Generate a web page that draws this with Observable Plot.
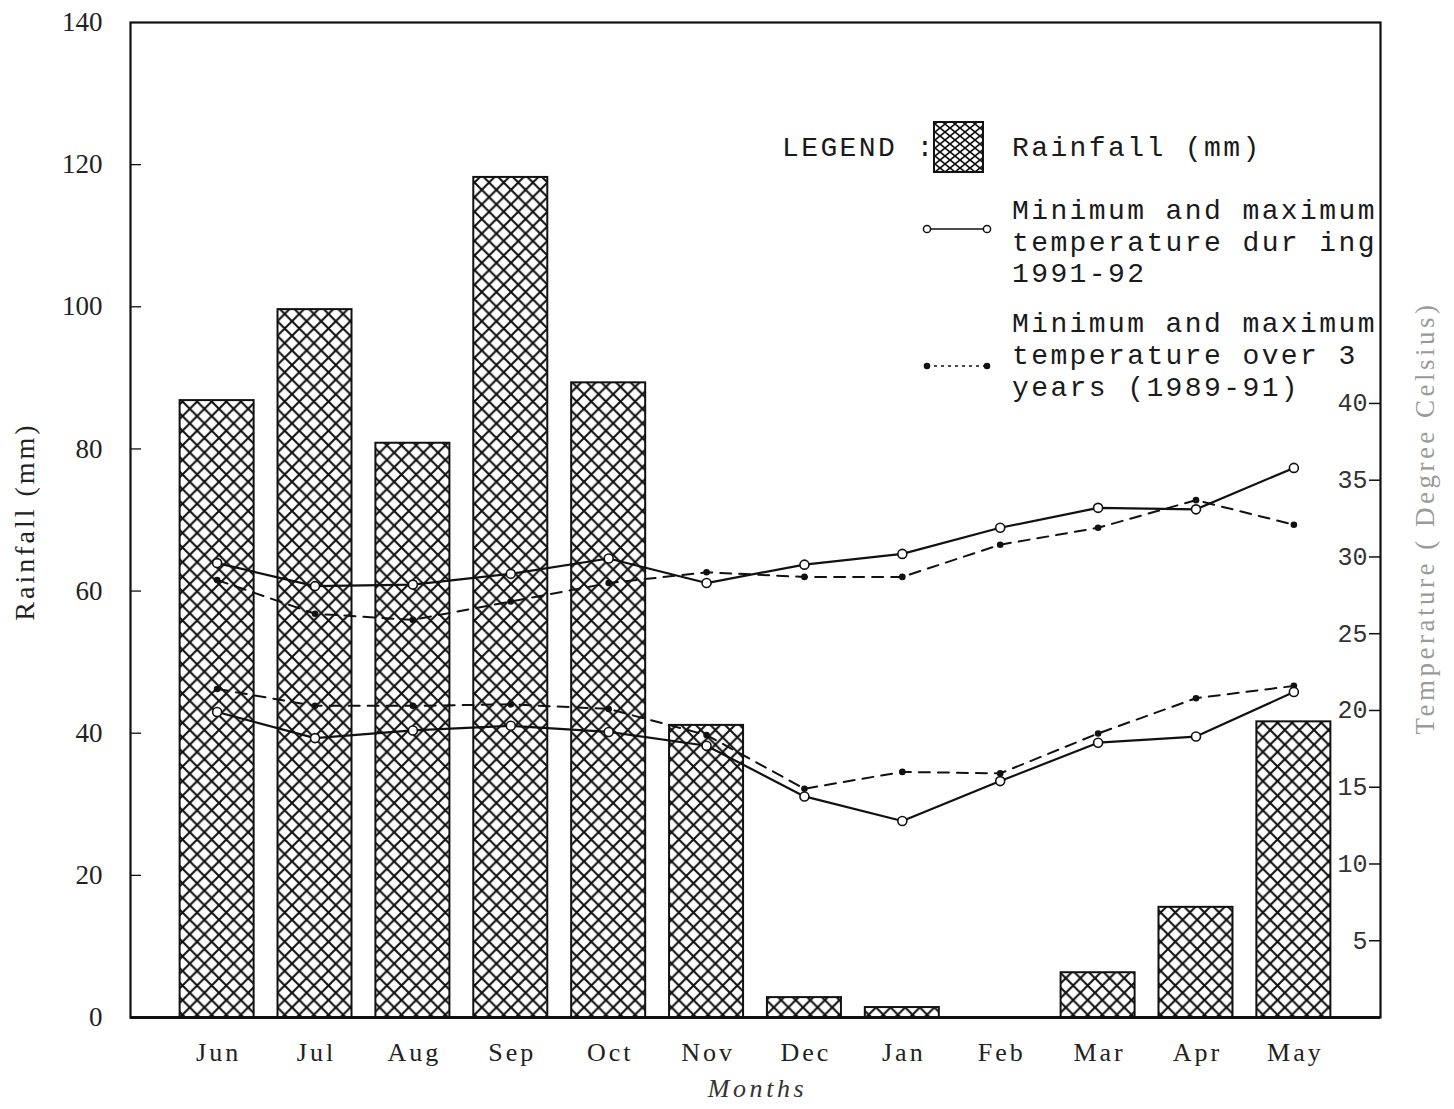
<!DOCTYPE html>
<html>
<head>
<meta charset="utf-8">
<script src="https://cdn.jsdelivr.net/npm/d3@7"></script>
<script src="https://cdn.jsdelivr.net/npm/@observablehq/plot@0.6"></script>
<style>
  body { margin: 0; background: #fff; }
  #wrap { position: relative; width: 1454px; height: 1109px; overflow: hidden; }
  #wrap > svg.plot { position: absolute; left: 0; top: 0; }
  .leg { position: absolute; font-family: "Liberation Mono", "DejaVu Sans Mono", monospace; font-size: 28px;
         letter-spacing: 2.4px; color: #1a1a1a; white-space: pre; line-height: 1; }
  #legsym { position: absolute; left: 0; top: 0; pointer-events: none; }
</style>
</head>
<body>
<div id="wrap"></div>
<script>
// ---- data ----
const months = ["Jun", "Jul", "Aug", "Sep", "Oct", "Nov", "Dec", "Jan", "Feb", "Mar", "Apr", "May"];
const rainfall = [86.8, 99.6, 80.8, 118.2, 89.3, 41.1, 2.8, 1.4, 0, 6.3, 15.5, 41.6];          // mm
const maxT9192 = [29.6, 28.1, 28.2, 28.9, 29.9, 28.3, 29.5, 30.2, 31.9, 33.2, 33.1, 35.8];      // °C
const minT9192 = [19.9, 18.2, 18.7, 19.0, 18.6, 17.7, 14.4, 12.8, 15.4, 17.9, 18.3, 21.2];
const maxT8991 = [28.5, 26.3, 25.9, 27.1, 28.3, 29.0, 28.7, 28.7, 30.8, 31.9, 33.7, 32.1];
const minT8991 = [21.4, 20.3, 20.3, 20.4, 20.1, 18.4, 14.9, 16.0, 15.9, 18.5, 20.8, 21.6];
const rainTicks = [0, 20, 40, 60, 80, 100, 120, 140];
const tempTicks = [5, 10, 15, 20, 25, 30, 35, 40];
const K = 2.16; // degrees Celsius -> mm position on the shared vertical scale

// ---- tables ----
const rainRows = months.map((m, i) => ({month: m, rain: rainfall[i]}));
const tempRows = [];
[["max9192", maxT9192, "1991-92"], ["min9192", minT9192, "1991-92"],
 ["max8991", maxT8991, "1989-91"], ["min8991", minT8991, "1989-91"]].forEach(([key, vals, period]) => {
  vals.forEach((t, i) => tempRows.push({key, period, month: months[i], t}));
});
const recent = tempRows.filter(d => d.period === "1991-92");
const longterm = tempRows.filter(d => d.period === "1989-91");

const W = 1454, H = 1109, mL = 130, mR = 74, mT = 22, mB = 92;
const frameW = W - mL - mR;
const serif = "Liberation Serif, Times New Roman, serif";
const mono = "Liberation Mono, DejaVu Sans Mono, monospace";

const chart = Plot.plot({
  width: W, height: H,
  marginLeft: mL, marginRight: mR, marginTop: mT, marginBottom: mB,
  style: {background: "white", overflow: "visible", fontFamily: serif},
  x: {type: "band", domain: months, paddingInner: 0.244, paddingOuter: 0.507, round: false, axis: null},
  y: {domain: [0, 140], axis: null},
  marks: [
    Plot.barY(rainRows.filter(d => d.rain > 0), {x: "month", y: "rain", fill: "url(#hatch)", stroke: "#111", strokeWidth: 2}),
    // temperature lines
    Plot.line(longterm, {x: "month", y: d => d.t * K, z: "key", stroke: "#111", strokeWidth: 2, strokeDasharray: "11,8"}),
    Plot.line(recent, {x: "month", y: d => d.t * K, z: "key", stroke: "#111", strokeWidth: 2.2}),
    Plot.dot(longterm, {x: "month", y: d => d.t * K, r: 3.3, fill: "#111"}),
    Plot.dot(recent, {x: "month", y: d => d.t * K, r: 4.5, fill: "white", stroke: "#111", strokeWidth: 1.6}),
    // frame and baseline
    Plot.frame({stroke: "#111", strokeWidth: 2.2}),
    Plot.ruleY([0], {stroke: "#111", strokeWidth: 3}),
    // left axis (rainfall)
    Plot.tickY(rainTicks.filter(d => d > 0 && d < 140), {y: d => d, insetRight: frameW - 11, stroke: "#111", strokeWidth: 1.3}),
    Plot.text(rainTicks, {y: d => d, text: d => String(d), frameAnchor: "left", textAnchor: "end", dx: -28,
      fontFamily: serif, fontSize: 27, fill: "#222"}),
    // right axis (temperature)
    Plot.tickY(tempTicks, {y: d => d * K, insetLeft: frameW - 11, stroke: "#111", strokeWidth: 1.5}),
    Plot.text(tempTicks, {y: d => d * K, text: d => String(d), frameAnchor: "right", textAnchor: "end", dx: -13,
      fontFamily: mono, fontSize: 25, fill: "#333"}),
    // x labels
    Plot.text(months, {x: d => d, text: d => d, frameAnchor: "bottom", dy: 35, dx: 1.5, lineAnchor: "middle",
      fontFamily: serif, fontSize: 26, fill: "#222"}),
    Plot.text(["Months"], {frameAnchor: "bottom", dy: 71, dx: 2, lineAnchor: "middle", textAnchor: "middle", fontFamily: serif, fontSize: 26,
      fontStyle: "italic", fill: "#333"}),
    Plot.text(["Rainfall (mm)"], {frameAnchor: "left", dx: -105, dy: 1.5, rotate: -90, textAnchor: "middle", fontFamily: serif, fontSize: 28,
      fill: "#222"}),
    Plot.text(["Temperature ( Degree Celsius)"], {frameAnchor: "right", dx: 45, dy: -2, rotate: -90, textAnchor: "middle",
      fontFamily: serif, fontSize: 27, fill: "#9a9a9a"})
  ]
});
chart.classList.add("plot");
chart.insertAdjacentHTML("afterbegin",
  `<defs>
     <pattern id="hatch" patternUnits="userSpaceOnUse" width="14.6" height="14.6">
       <rect width="14.6" height="14.6" fill="white"/>
       <path d="M-1,-1 L15.6,15.6 M15.6,-1 L-1,15.6" stroke="#111" stroke-width="2.1" fill="none"/>
     </pattern>
   </defs>`);

// letter spacing of the typeset labels (scan shows wide tracking)
const spacing = new Map([["Months", "3.6px"], ["Rainfall (mm)", "3px"], ["Temperature ( Degree Celsius)", "3.5px"]]);
months.forEach(m => spacing.set(m, "3px"));
d3.select(chart).selectAll("text").each(function() {
  const s = spacing.get(this.textContent);
  if (s) this.style.letterSpacing = s;
});

const wrap = document.getElementById("wrap");
wrap.appendChild(chart);

// ---- legend (inside the plot area, top right) ----
const legLines = [
  ["LEGEND :", 782, 135],
  ["Rainfall (mm)", 1012, 135],
  ["Minimum and maximum", 1012, 198],
  ["temperature dur ing", 1012, 230],
  ["1991-92", 1012, 261],
  ["Minimum and maximum", 1012, 311],
  ["temperature over 3", 1012, 343],
  ["years (1989-91)", 1012, 375]
];
const legendHTML = legLines.map(([t, x, y]) => `<div class="leg" style="left:${x}px;top:${y}px">${t}</div>`).join("") + `
  <svg id="legsym" width="${W}" height="${H}">
    <defs>
      <pattern id="hatchSmall" patternUnits="userSpaceOnUse" width="10" height="8">
        <rect width="10" height="8" fill="white"/>
        <path d="M-1,-0.8 L11,8.8 M11,-0.8 L-1,8.8" stroke="#111" stroke-width="1.7" fill="none"/>
      </pattern>
    </defs>
    <rect x="934" y="122" width="49" height="50" fill="url(#hatchSmall)" stroke="#111" stroke-width="2"/>
    <line x1="927" y1="229" x2="987" y2="229" stroke="#111" stroke-width="1.6"/>
    <circle cx="927" cy="229" r="3.6" fill="white" stroke="#111" stroke-width="1.5"/>
    <circle cx="987" cy="229" r="3.6" fill="white" stroke="#111" stroke-width="1.5"/>
    <line x1="927" y1="366" x2="987" y2="366" stroke="#111" stroke-width="1.6" stroke-dasharray="3,4"/>
    <circle cx="927" cy="366" r="3.3" fill="#111"/>
    <circle cx="987" cy="366" r="3.3" fill="#111"/>
  </svg>`;
wrap.insertAdjacentHTML("beforeend", legendHTML);
</script>
</body>
</html>
